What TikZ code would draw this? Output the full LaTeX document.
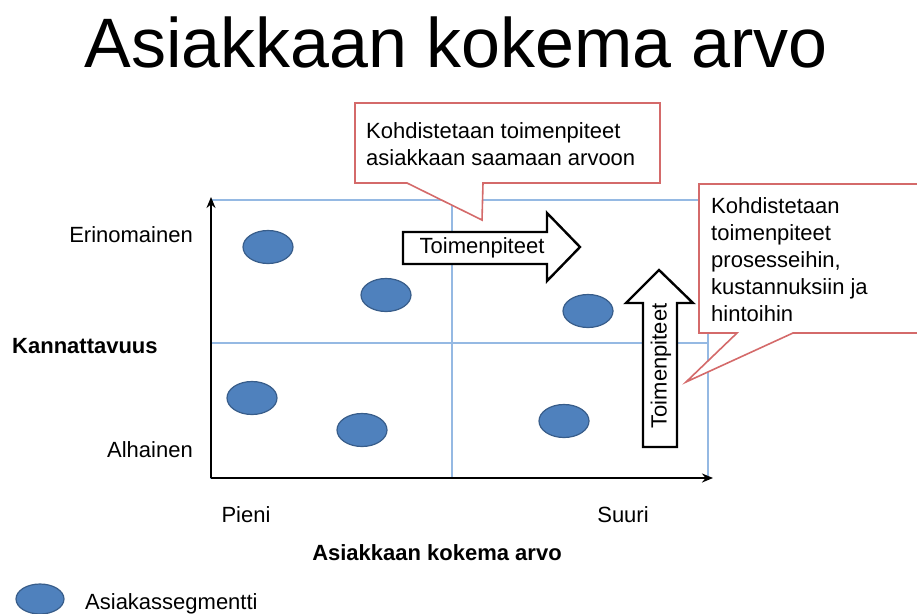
\documentclass[tikz,border=0pt]{standalone}
\usepackage{fontspec}
\setmainfont{Liberation Sans}
\usepackage{xcolor}
\usetikzlibrary{calc, positioning, arrows.meta, shapes.geometric}
\definecolor{gridblue}{HTML}{95B9E3}
\definecolor{callred}{HTML}{D46A6A}
\definecolor{segfill}{HTML}{4F81BD}
\definecolor{segdraw}{HTML}{385D8A}
\tikzset{
    txt/.style={font=\fontsize{22}{27}\selectfont, inner sep=0pt},
    lbl/.style={font=\bfseries\fontsize{22}{27}\selectfont, inner sep=0pt},
    gridline/.style={draw=gridblue, line width=1.5pt},
    axis/.style={-{Stealth[length=11pt,width=9pt]}, line width=2.6pt, black},
    segment/.style={ellipse, draw=segdraw, line width=1.2pt, fill=segfill, minimum width=50pt, minimum height=33pt, inner sep=0pt},
    callout/.style={draw=callred, line width=1.6pt, fill=white},
    blockarrow/.style={draw=black, line width=2.4pt, fill=white, line join=miter}
}

\begin{document}
\begin{tikzpicture}[x=1pt, y=-1pt]
    \useasboundingbox (0,0) rectangle (917,613);
    \clip (0,0) rectangle (917,613);

    % Title
    \node[font=\fontsize{70}{80}\selectfont, inner sep=0pt, anchor=base] (title) at (456,67) {Asiakkaan kokema arvo};

    % Grid
    \coordinate (O) at (211,478);
    \coordinate (ytop) at (211,197);
    \coordinate (xend) at (713,478);
    \draw[gridline] (211,200) rectangle (708,478);
    \draw[gridline] (211,343) -- (708,343);
    \draw[gridline] (452,200) -- (452,478);

    % Axes
    \draw[axis] (O) -- (ytop);
    \draw[axis] (O) -- (xend);

    % Axis labels
    \node[txt, anchor=base east] (high) at (193,242) {Erinomainen};
    \node[txt, anchor=base east] (low) at (193,457) {Alhainen};
    \node[lbl, anchor=base west] (yname) at (12,353) {Kannattavuus};
    \node[txt, anchor=base] (small) at (246,522) {Pieni};
    \node[txt, anchor=base] (large) at (623,522) {Suuri};
    \node[lbl, anchor=base] (xname) at (437,560) {Asiakkaan kokema arvo};

    % Customer segments
    \node[segment] (s1) at (268,247) {};
    \node[segment] (s2) at (386,295) {};
    \node[segment] (s3) at (588,311) {};
    \node[segment] (s4) at (252,398) {};
    \node[segment] (s5) at (362,430) {};
    \node[segment] (s6) at (564,421) {};

    % Block arrows
    \draw[blockarrow] (403,232) -- (547,232) -- (547,213) -- (580,247) -- (547,281) -- (547,264) -- (403,264) -- cycle;
    \node[txt] (harrow) at (482,248) {Toimenpiteet};
    \draw[blockarrow] (643,447) -- (643,303) -- (626,303) -- (659,270) -- (693,303) -- (677,303) -- (677,447) -- cycle;
    \node[txt, rotate=90] (varrow) at (661,366) {Toimenpiteet};

    % Callouts
    \draw[callout] (355,103) -- (660,103) -- (660,183) -- (483,183) -- (482,220) -- (407,183) -- (355,183) -- cycle;
    \node[txt, anchor=north west, align=left] (call1) at (366,122) {Kohdistetaan toimenpiteet\\asiakkaan saamaan arvoon};
    \draw[callout] (699,184) -- (930,184) -- (930,333) -- (793,333) -- (686,382) -- (737,333) -- (699,333) -- cycle;
    \node[txt, anchor=north west, align=left] (call2) at (711,197) {Kohdistetaan\\toimenpiteet\\prosesseihin,\\kustannuksiin ja\\hintoihin};

    % Legend
    \node[segment, minimum width=48pt, minimum height=30pt] (key) at (40,599) {};
    \node[txt, anchor=base west] (keytext) at (85,609) {Asiakassegmentti};
\end{tikzpicture}
\end{document}
